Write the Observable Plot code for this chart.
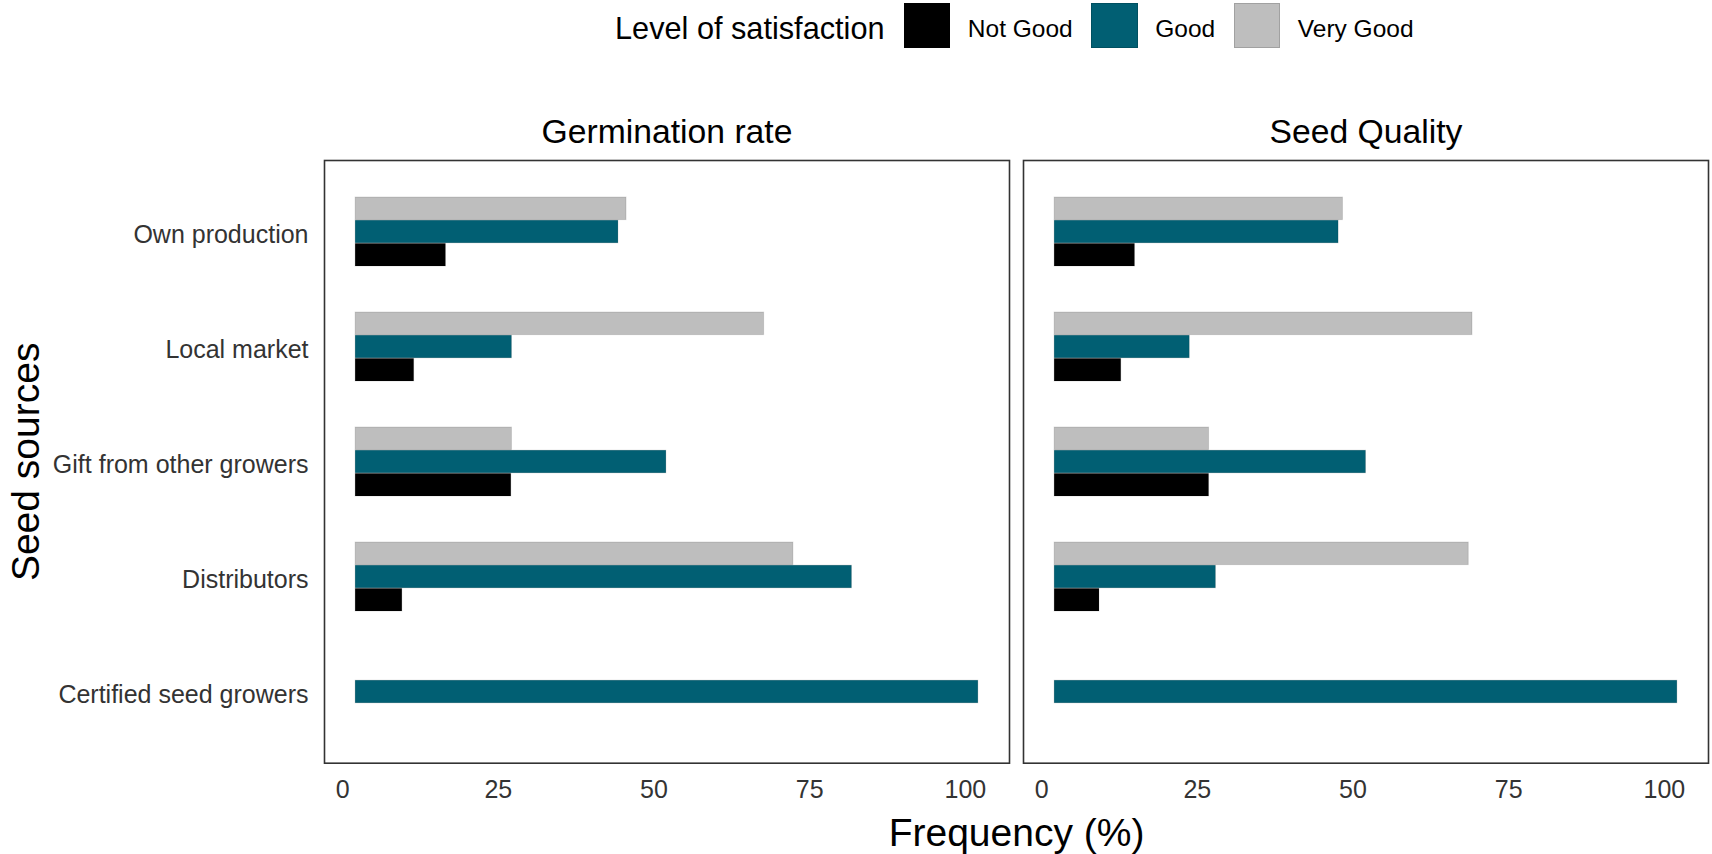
<!DOCTYPE html>
<html><head><meta charset="utf-8">
<script src="https://cdn.jsdelivr.net/npm/d3@7"></script>
<script src="https://cdn.jsdelivr.net/npm/@observablehq/plot@0.6"></script>
<style>
html,body{margin:0;padding:0;background:#fff;}
#wrap{width:1712px;height:854px;position:relative;overflow:hidden;font-family:"Liberation Sans",Arial,sans-serif;background:#fff;}
#legend{height:50px;display:flex;align-items:center;padding-left:615px;box-sizing:border-box;}
#legend .ltitle{font-size:30.7px;color:#000;margin-right:19px;position:relative;top:4px;white-space:nowrap;}
#legend .sw{width:46.6px;height:45px;margin-right:17.7px;box-sizing:border-box;border:1px solid rgba(0,0,0,0.15);}
#legend .ll{font-size:24.5px;color:#000;margin-right:18.3px;position:relative;top:4px;white-space:nowrap;}
#chart svg{display:block;}
</style></head>
<body><div id="wrap"><div id="legend"></div><div id="chart"></div></div>
<script>
// ---- data ----
const sources = ["Own production", "Local market", "Gift from other growers", "Distributors", "Certified seed growers"];
const metrics = ["Germination rate", "Seed Quality"];
const levels = ["Not Good", "Good", "Very Good"];
const levelColors = ["#000000", "#015f73", "#bebebe"];

const germNotGood   = [14.5, 9.4, 25.0, 7.5, 0];
const germGood      = [42.2, 25.1, 49.9, 79.7, 100];
const germVeryGood  = [43.5, 65.6, 25.1, 70.3, 0];
const qualNotGood   = [12.9, 10.7, 24.8, 7.2, 0];
const qualGood      = [45.6, 21.7, 50.0, 25.9, 100];
const qualVeryGood  = [46.3, 67.1, 24.8, 66.5, 0];

const xTicks = [0, 25, 50, 75, 100];
const xTitle = "Frequency (%)";
const yTitle = "Seed sources";
const legendTitle = "Level of satisfaction";

// ---- tidy table ----
const series = [
  [metrics[0], "Not Good", germNotGood], [metrics[0], "Good", germGood], [metrics[0], "Very Good", germVeryGood],
  [metrics[1], "Not Good", qualNotGood], [metrics[1], "Good", qualGood], [metrics[1], "Very Good", qualVeryGood]
];
const rows = [];
for (const [metric, level, vals] of series) {
  vals.forEach((v, i) => rows.push({metric, level, source: sources[i], value: v}));
}

// ---- layout ----
const W = 1712, H = 804, MT = 110, MB = 91.3, ML = 323.3, MR = 3.3;
const PI = 0.4, PO = 0.3;
const step = (H - MT - MB) / (sources.length - PI + 2 * PO);
const third = step * (1 - PI) / 3;
const font = "'Liberation Sans', Arial, sans-serif";

const barOpts = {fx: "metric", y: "source", x: "value", fill: "level", stroke: "#000", strokeOpacity: 0.12, strokeWidth: 1};
const sel = (lv) => rows.filter(d => d.level === lv && d.value > 0);

const plot = Plot.plot({
  width: W, height: H,
  marginTop: MT, marginBottom: MB, marginLeft: ML, marginRight: MR,
  style: {fontFamily: font, background: "#fff", overflow: "visible"},
  x: {domain: [-5, 105]},
  y: {domain: sources, paddingInner: PI, paddingOuter: PO},
  fx: {domain: metrics, paddingInner: 0.0204, paddingOuter: 0},
  color: {domain: levels, range: levelColors},
  marks: [
    Plot.barX(sel("Very Good"), {...barOpts, insetBottom: 2 * third}),
    Plot.barX(sel("Good"), {...barOpts, insetTop: third, insetBottom: third}),
    Plot.barX(sel("Not Good"), {...barOpts, insetTop: 2 * third}),
    Plot.frame({stroke: "#333", strokeWidth: 1.6}),
    Plot.axisX({ticks: xTicks, tickSize: 0, tickPadding: 17.3, fontSize: 25, dx: -13, color: "#333", label: null}),
    Plot.axisY({tickSize: 0, tickPadding: 16, fontSize: 25, dy: 3, color: "#333", label: null}),
    Plot.axisFx({anchor: "top", tickSize: 0, tickPadding: 17.3, fontSize: 33.7, color: "#000", label: null}),
    Plot.text([xTitle], {fx: [metrics[1]], text: d => d, frameAnchor: "bottom-left", dx: -7, dy: 82.3,
      textAnchor: "middle", lineAnchor: "bottom", fontSize: 39, fill: "#000"}),
    Plot.text([yTitle], {fx: [metrics[0]], text: d => d, frameAnchor: "left", dx: -313, rotate: -90,
      textAnchor: "middle", lineAnchor: "top", fontSize: 39, fill: "#000"})
  ]
});
document.getElementById("chart").appendChild(plot);

// ---- legend (colors from the plot's color scale) ----
const cs = plot.scale("color");
const lg = document.getElementById("legend");
const t = document.createElement("span"); t.className = "ltitle"; t.textContent = legendTitle; lg.appendChild(t);
cs.domain.forEach((lv, i) => {
  const sw = document.createElement("span"); sw.className = "sw"; sw.style.background = cs.range[i]; lg.appendChild(sw);
  const lb = document.createElement("span"); lb.className = "ll"; lb.textContent = lv; lg.appendChild(lb);
});
</script></body></html>
